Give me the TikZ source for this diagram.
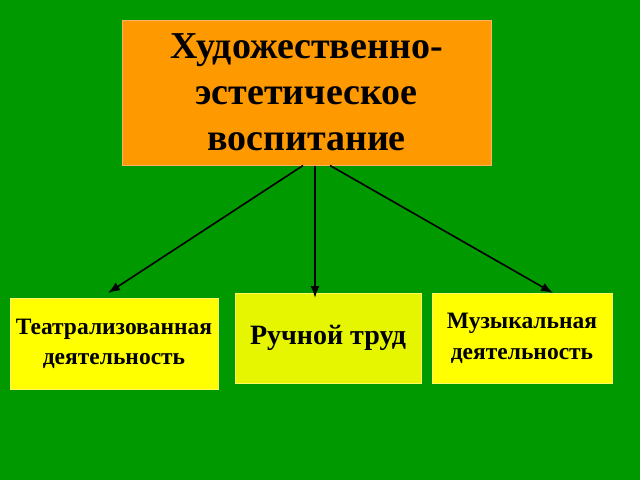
\documentclass[tikz,border=0pt]{standalone}
\usepackage{fontspec}
\setmainfont{Liberation Serif}
\usetikzlibrary{arrows.meta}
\begin{document}
\begin{tikzpicture}[x=1pt,y=-1pt,
 box/.style={draw=#1!60!white,line width=1pt,inner sep=0pt,align=center,font=\bfseries},
 arr/.style={-{Latex[length=12pt,width=9pt]},line width=1.6pt,black}]
\fill[fill={rgb,255:red,0;green,153;blue,0}] (0,0) rectangle (640,480);
\useasboundingbox (0,0) rectangle (640,480);
\node[box=orange,fill={rgb,255:red,255;green,153;blue,0},minimum width=369pt,minimum height=145pt,font=\bfseries\fontsize{38}{46}\selectfont] (top) at (306.5,92.5) {Художественно-\\эстетическое\\воспитание};
\node[box=yellow,fill={rgb,255:red,255;green,255;blue,0},minimum width=208pt,minimum height=91pt,font=\bfseries\fontsize{23.5}{30}\selectfont] (l) at (114,343.5) {Театрализованная\\деятельность};
\node[box=yellow,fill={rgb,255:red,230;green,245;blue,0},minimum width=186pt,minimum height=90pt,font=\bfseries\fontsize{28}{30}\selectfont] (m) at (328,338) {Ручной труд};
\node[box=yellow,fill={rgb,255:red,255;green,255;blue,0},minimum width=180pt,minimum height=90pt,font=\bfseries\fontsize{23.5}{31}\selectfont] (r) at (522,338) {Музыкальная\\деятельность};
\coordinate (a1) at (108,293); \coordinate (a2) at (315,298); \coordinate (a3) at (553,293);
\draw[arr] (top.south -| 303,0) -- (a1);
\draw[arr] (top.south -| 315,0) -- (a2);
\draw[arr] (top.south -| 330,0) -- (a3);
\end{tikzpicture}
\end{document}
